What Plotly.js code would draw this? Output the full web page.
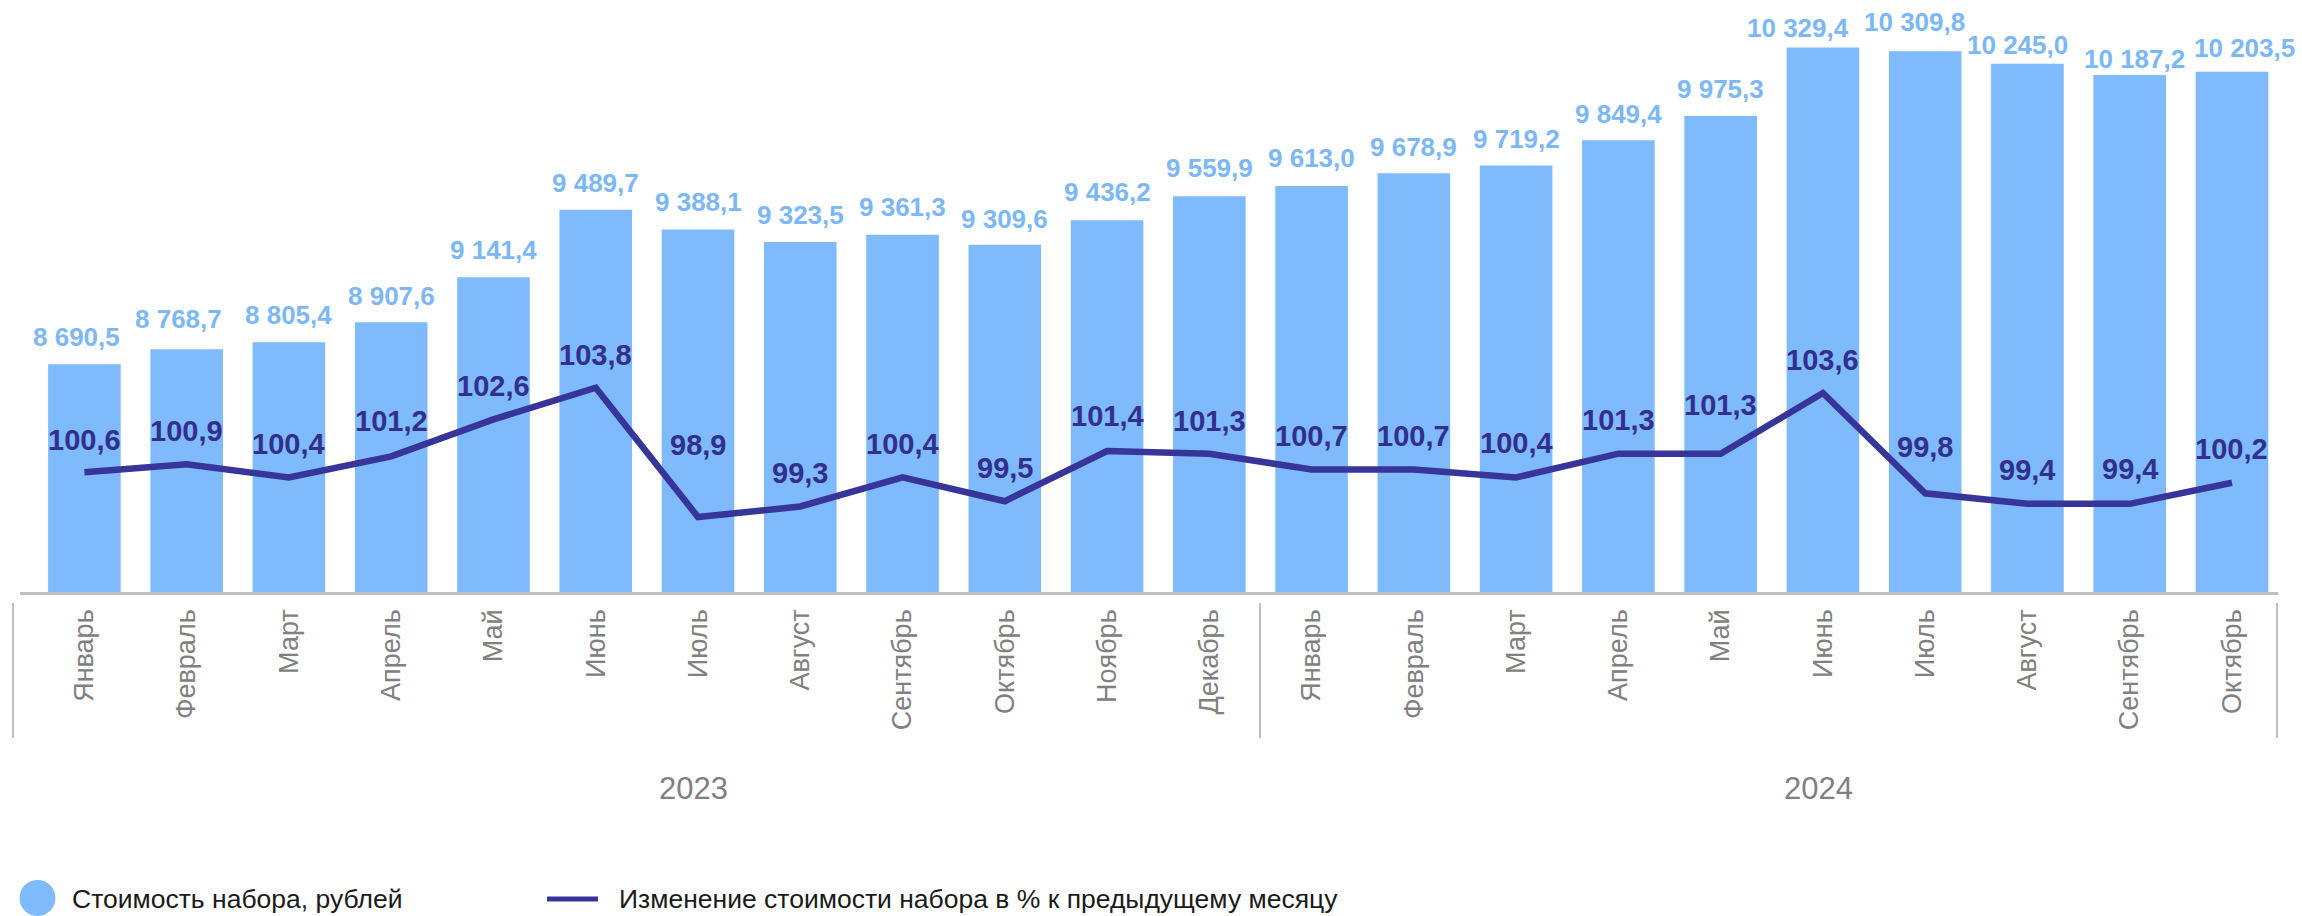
<!DOCTYPE html>
<html>
<head>
<meta charset="utf-8">
<script src="https://cdn.plot.ly/plotly-3.0.1.min.js"></script>
<style>
  html, body { margin: 0; padding: 0; background: #ffffff; }
  #chart { width: 2302px; height: 916px; }
</style>
</head>
<body>
<div id="chart"></div>
<script>
// ---------- DATA ----------
const months = ['Январь','Февраль','Март','Апрель','Май','Июнь','Июль','Август','Сентябрь','Октябрь','Ноябрь','Декабрь',
                'Январь','Февраль','Март','Апрель','Май','Июнь','Июль','Август','Сентябрь','Октябрь'];
const monthYears = ['2023','2023','2023','2023','2023','2023','2023','2023','2023','2023','2023','2023',
                    '2024','2024','2024','2024','2024','2024','2024','2024','2024','2024'];
const costs = [8690.5, 8768.7, 8805.4, 8907.6, 9141.4, 9489.7, 9388.1, 9323.5, 9361.3, 9309.6, 9436.2, 9559.9,
               9613.0, 9678.9, 9719.2, 9849.4, 9975.3, 10329.4, 10309.8, 10245.0, 10187.2, 10203.5];
const changes = [100.6, 100.9, 100.4, 101.2, 102.6, 103.8, 98.9, 99.3, 100.4, 99.5, 101.4, 101.3,
                 100.7, 100.7, 100.4, 101.3, 101.3, 103.6, 99.8, 99.4, 99.4, 100.2];
const seriesNames = ['Стоимость набора, рублей', 'Изменение стоимости набора в % к предыдущему месяцу'];

// ---------- LABEL PLACEMENT (style, not data) ----------
const barLabelYShift  = [27,30,27,26,27,27,27,27,28,26,28,28, 28,26,26,26,27,19,29,19,16,24];
const barLabelXShift  = [-8,-8,0,0,0,0,0,0,0,0,0,0, 0,0,0,0,0,-25,-11,-10,5,13];
const lineLabelYShift = [32,33,33,35,33,33,72,33,33,33,35,33, 34,34,34,34,49,33,46,34,35,34];

// ---------- STYLE ----------
const FONT = 'Liberation Sans, Arial, sans-serif';
const BAR_COLOR = '#7FBAFC';
const BAR_LABEL_COLOR = '#7CB7F8';
const LINE_COLOR = '#37349A';
const LINE_LABEL_COLOR = '#322F8E';
const GREY = '#808080';
const AXIS_GREY = '#BFBFBF';

const W = 2302, H = 916;
const M = {l: 20, r: 24, t: 0, b: 324};
const plotW = W - M.l - M.r, plotH = H - M.t - M.b;
const pxX = px => (px - M.l) / plotW;
const pxY = py => (M.t + plotH - py) / plotH;

const ids = months.map((m, i) => m + ' ' + monthYears[i]);
const fmt = v => {
  const s = v.toFixed(1).split('.');
  return s[0].replace(/\B(?=(\d{3})+(?!\d))/g, ' ') + ',' + s[1];
};

const traces = [
  {
    type: 'bar', name: seriesNames[0], x: ids, y: costs,
    marker: {color: BAR_COLOR}, hoverinfo: 'x+y', yaxis: 'y'
  },
  {
    type: 'scatter', mode: 'lines', name: seriesNames[1], x: ids, y: changes,
    line: {color: LINE_COLOR, width: 6.5}, yaxis: 'y2', hoverinfo: 'x+y'
  }
];

const annotations = [];
costs.forEach((v, i) => annotations.push({
  x: ids[i], y: v, xref: 'x', yref: 'y', text: fmt(v), showarrow: false,
  xanchor: 'center', yanchor: 'middle', yshift: barLabelYShift[i], xshift: barLabelXShift[i],
  font: {family: FONT, size: 26, color: BAR_LABEL_COLOR, weight: 'bold'}
}));
changes.forEach((v, i) => annotations.push({
  x: ids[i], y: v, xref: 'x', yref: 'y2', text: fmt(v), showarrow: false,
  xanchor: 'center', yanchor: 'middle', yshift: lineLabelYShift[i],
  font: {family: FONT, size: 29, color: LINE_LABEL_COLOR, weight: 'bold'}
}));

// year group labels
const yearList = [...new Set(monthYears)];
const shapes = [];
yearList.forEach(yr => {
  const idx = monthYears.map((y, i) => y === yr ? i : -1).filter(i => i >= 0);
  const mid = (idx[0] + idx[idx.length - 1]) / 2;
  annotations.push({
    x: mid, y: pxY(788), xref: 'x', yref: 'paper', text: yr, showarrow: false,
    xanchor: 'center', yanchor: 'middle', xshift: 47,
    font: {family: FONT, size: 31, color: GREY}
  });
});
// group dividers (pixel positions of the separators under the axis)
const dividerPx = [13, 1260, 2277];
dividerPx.forEach(px => shapes.push({
  type: 'line', xref: 'paper', yref: 'paper', x0: pxX(px), x1: pxX(px), y0: pxY(603), y1: pxY(738),
  line: {color: AXIS_GREY, width: 2}
}));

// custom legend
shapes.push({
  type: 'circle', xref: 'paper', yref: 'paper',
  x0: pxX(19.5), x1: pxX(55.5), y0: pxY(880), y1: pxY(916),
  fillcolor: BAR_COLOR, line: {width: 0}
});
shapes.push({
  type: 'line', xref: 'paper', yref: 'paper',
  x0: pxX(547), x1: pxX(598), y0: pxY(899), y1: pxY(899),
  line: {color: LINE_COLOR, width: 5}
});
annotations.push({
  x: pxX(70), y: pxY(899), xref: 'paper', yref: 'paper', text: seriesNames[0], showarrow: false,
  xanchor: 'left', yanchor: 'middle', font: {family: FONT, size: 26.5, color: '#1A1A1A'}
});
annotations.push({
  x: pxX(617), y: pxY(899), xref: 'paper', yref: 'paper', text: seriesNames[1], showarrow: false,
  xanchor: 'left', yanchor: 'middle', font: {family: FONT, size: 26.5, color: '#1A1A1A'}
});

const layout = {
  width: W, height: H,
  margin: M,
  paper_bgcolor: '#ffffff', plot_bgcolor: '#ffffff',
  showlegend: false,
  bargap: 0.29,
  font: {family: FONT},
  xaxis: {
    type: 'category', range: [-0.63, 21.45],
    tickvals: ids, ticktext: months, tickangle: -90,
    tickfont: {family: FONT, size: 27, color: GREY},
    showline: true, linecolor: AXIS_GREY, linewidth: 2.5,
    showgrid: false, zeroline: false, ticks: '', ticklabelstandoff: 4
  },
  yaxis: {
    range: [7513, 10575], visible: false, showgrid: false, zeroline: false, fixedrange: true
  },
  yaxis2: {
    range: [96.06, 118.49], overlaying: 'y', side: 'right', visible: false,
    showgrid: false, zeroline: false
  },
  annotations: annotations,
  shapes: shapes
};

Plotly.newPlot('chart', traces, layout, {displayModeBar: false, staticPlot: true});
</script>
</body>
</html>
